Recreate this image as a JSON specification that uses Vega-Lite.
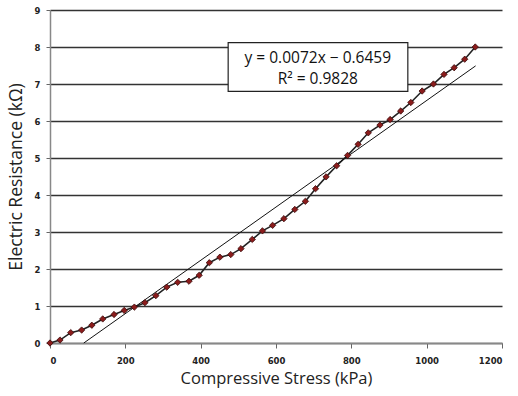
{
  "$schema": "https://vega.github.io/schema/vega-lite/v6.json",
  "width": 452,
  "height": 333,
  "autosize": "none",
  "padding": {"left": 50, "top": 10, "right": 16, "bottom": 53},
  "background": "white",
  "config": {"view": {"stroke": null}, "font": "Open Sans"},
  "datasets": {
    "pts": [
      {"stress": 0, "res": 0}, {"stress": 26.5, "res": 0.08}, {"stress": 55, "res": 0.28}, {"stress": 84, "res": 0.35},
      {"stress": 111, "res": 0.48}, {"stress": 140, "res": 0.65}, {"stress": 170, "res": 0.77}, {"stress": 197, "res": 0.88},
      {"stress": 224, "res": 0.97}, {"stress": 252, "res": 1.09}, {"stress": 281, "res": 1.28}, {"stress": 310, "res": 1.51},
      {"stress": 339, "res": 1.64}, {"stress": 369, "res": 1.67}, {"stress": 396, "res": 1.83}, {"stress": 423, "res": 2.17},
      {"stress": 451, "res": 2.32}, {"stress": 480, "res": 2.39}, {"stress": 507, "res": 2.55}, {"stress": 537, "res": 2.8},
      {"stress": 564, "res": 3.03}, {"stress": 591, "res": 3.18}, {"stress": 621, "res": 3.36}, {"stress": 650, "res": 3.61},
      {"stress": 678, "res": 3.83}, {"stress": 705, "res": 4.17}, {"stress": 733, "res": 4.49}, {"stress": 761, "res": 4.79},
      {"stress": 790, "res": 5.07}, {"stress": 818, "res": 5.37}, {"stress": 845, "res": 5.68}, {"stress": 876, "res": 5.89},
      {"stress": 903, "res": 6.04}, {"stress": 931, "res": 6.27}, {"stress": 958, "res": 6.5}, {"stress": 988, "res": 6.81},
      {"stress": 1018, "res": 7.0}, {"stress": 1046, "res": 7.26}, {"stress": 1073, "res": 7.44}, {"stress": 1101, "res": 7.67},
      {"stress": 1129, "res": 8.0}
    ],
    "trend": [{"stress": 89.7, "res": 0}, {"stress": 1130, "res": 7.49}],
    "box": [{"stress": 473, "stress2": 950, "res": 6.8, "res2": 8.12}],
    "labels": [
      {"stress": 711, "res": 7.71, "t": "y = 0.0072x − 0.6459"},
      {"stress": 711, "res": 7.13, "t": "R² = 0.9828"}
    ]
  },
  "encoding": {
    "x": {"field": "stress", "type": "quantitative", "scale": {"domain": [0, 1200], "nice": false},
      "axis": {"title": "Compressive Stress (kPa)", "values": [0, 200, 400, 600, 800, 1000, 1200], "format": "d", "grid": false,
        "labelOverlap": false,
        "domainColor": "#888888", "domainWidth": 1.5, "tickColor": "#666666", "tickSize": 5,
        "labelFont": "DejaVu Sans", "labelFontWeight": "bold", "labelFontSize": 8.5, "labelColor": "#222222", "labelPadding": 8,
        "titleFont": "Open Sans", "titleFontSize": 16.5, "titleFontWeight": "normal", "titleColor": "#222222", "titlePadding": 6}},
    "y": {"field": "res", "type": "quantitative", "scale": {"domain": [0, 9], "nice": false},
      "axis": {"title": "Electric Resistance (kΩ)", "values": [0, 1, 2, 3, 4, 5, 6, 7, 8, 9], "format": "d", "grid": true,
        "labelOverlap": false,
        "gridColor": "#333333", "gridWidth": 1.5, "domainColor": "#888888", "domainWidth": 1.5,
        "tickColor": "#666666", "tickSize": 4,
        "labelFont": "DejaVu Sans", "labelFontWeight": "bold", "labelFontSize": 8.5, "labelColor": "#222222", "labelPadding": 6,
        "titleFont": "Open Sans", "titleFontSize": 17.5, "titleFontWeight": "normal", "titleColor": "#222222", "titlePadding": 9}}
  },
  "layer": [
    {
      "data": {"name": "pts"},
      "mark": {"type": "line", "color": "#222222", "strokeWidth": 1.6}
    },
    {
      "data": {"name": "trend"},
      "mark": {"type": "line", "color": "#111111", "strokeWidth": 1}
    },
    {
      "data": {"name": "pts"},
      "mark": {"type": "point", "shape": "diamond", "filled": true, "size": 40, "color": "#8b1c1c", "stroke": "#3a0a0a", "strokeWidth": 0.8, "opacity": 1}
    },
    {
      "data": {"name": "box"},
      "mark": {"type": "rect", "fill": "white", "stroke": "#222222", "strokeWidth": 1.2},
      "encoding": {
        "x2": {"field": "stress2"},
        "y2": {"field": "res2"}
      }
    },
    {
      "data": {"name": "labels"},
      "mark": {"type": "text", "font": "Open Sans", "fontSize": 15.5, "color": "#111111", "align": "center", "baseline": "middle"},
      "encoding": {
        "text": {"field": "t"}
      }
    }
  ]
}
